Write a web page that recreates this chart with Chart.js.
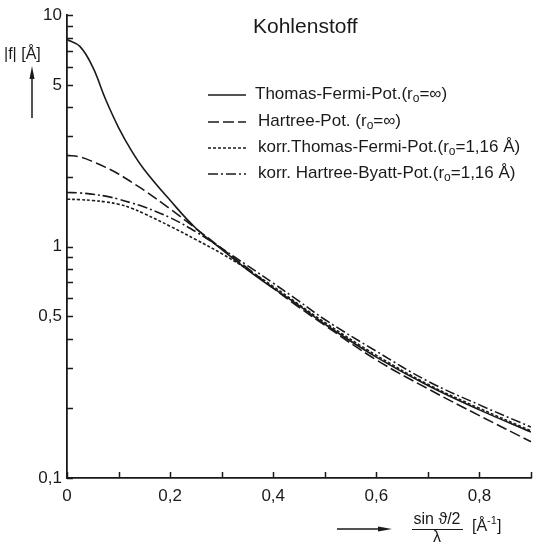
<!DOCTYPE html>
<html lang="de">
<head>
<meta charset="utf-8">
<title>Kohlenstoff</title>
<script src="https://cdn.jsdelivr.net/npm/chart.js@4.4.1/dist/chart.umd.min.js"></script>
<style>
    html, body { margin: 0; padding: 0; background: #fff; }
    #wrap { width: 536px; height: 544px; }
</style>
</head>
<body>
<div id="wrap"><canvas id="grafico" width="536" height="544"></canvas></div>
<script>
// sin(theta/2)/lambda [1/A]
const sWerte = [0, 0.025, 0.05, 0.075, 0.1, 0.125, 0.15, 0.2, 0.25, 0.3, 0.35, 0.4, 0.45, 0.5, 0.6, 0.7, 0.8, 0.9];

// |f| [A] fuer die vier Potentiale
const thomasFermi      = [7.85, 7.33, 5.96, 4.32, 3.27, 2.6, 2.15, 1.585, 1.2, 0.973, 0.794, 0.661, 0.556, 0.462, 0.333, 0.251, 0.197, 0.158];
const hartree          = [2.48, 2.44, 2.33, 2.2, 2.06, 1.9, 1.75, 1.455, 1.197, 0.982, 0.807, 0.661, 0.547, 0.457, 0.324, 0.243, 0.186, 0.1435];
const korrThomasFermi  = [1.603, 1.596, 1.581, 1.56, 1.524, 1.466, 1.387, 1.225, 1.072, 0.933, 0.798, 0.673, 0.562, 0.47, 0.339, 0.254, 0.2, 0.16];
const korrHartreeByatt = [1.714, 1.706, 1.683, 1.652, 1.603, 1.545, 1.483, 1.334, 1.159, 0.982, 0.828, 0.695, 0.581, 0.484, 0.353, 0.262, 0.207, 0.166];

const legendeTexte = [
    'Thomas-Fermi-Pot.(r_o=∞)',
    'Hartree-Pot. (r_o=∞)',
    'korr.Thomas-Fermi-Pot.(r_o=1,16 Å)',
    'korr. Hartree-Byatt-Pot.(r_o=1,16 Å)'
];

const yTicks = [0.1, 0.5, 1, 5, 10];
const yKleineTicks = [0.2, 0.3, 0.4, 0.6, 0.7, 0.8, 0.9, 2, 3, 4, 6, 7, 8, 9];
const xTicks = [0, 0.2, 0.4, 0.6, 0.8];
const xKleineTicks = [0.1, 0.3, 0.5, 0.7, 0.9];

const schrift = "'Liberation Sans', Arial, sans-serif";
const farbe = '#1a1a1a';

function punkte(werte) {
    return sWerte.map((s, i) => ({ x: s, y: werte[i] }));
}

function kommaZahl(v) {
    return String(v).replace('.', ',');
}

// Text mit Tief-/Hochstellung zeichnen
function zeichneText(ctx, x, y, teile, groesse) {
    teile.forEach(function (t) {
        var txt = t[0], art = t[1] || 'n';
        var g = art === 'n' ? groesse : Math.round(groesse * 0.68);
        var dy = art === 'sub' ? groesse * 0.3 : (art === 'sup' ? -groesse * 0.38 : 0);
        ctx.font = g + 'px ' + schrift;
        ctx.fillText(txt, x, y + dy);
        x += ctx.measureText(txt).width;
    });
    return x;
}

function legendeTeile(text) {
    var stuecke = text.split('_o');
    var teile = [];
    stuecke.forEach(function (s, i) {
        if (i > 0) teile.push(['o', 'sub']);
        teile.push([s, 'n']);
    });
    return teile;
}

const beschriftung = {
    id: 'beschriftung',
    afterDraw(chart) {
        const ctx = chart.ctx;
        const area = chart.chartArea;
        const sx = chart.scales.x;
        const sy = chart.scales.y;
        ctx.save();
        ctx.strokeStyle = farbe;
        ctx.fillStyle = farbe;
        ctx.lineWidth = 1.5;
        ctx.setLineDash([]);

        // Ticks nach innen
        ctx.beginPath();
        yTicks.concat(yKleineTicks).forEach(function (v) {
            var py = Math.round(sy.getPixelForValue(v)) + 0.5;
            ctx.moveTo(area.left, py);
            ctx.lineTo(area.left + 6, py);
        });
        xTicks.concat(xKleineTicks).forEach(function (v) {
            var px = Math.round(sx.getPixelForValue(v)) + 0.5;
            ctx.moveTo(px, area.bottom);
            ctx.lineTo(px, area.bottom - 6);
        });
        ctx.stroke();

        // Titel
        ctx.textBaseline = 'middle';
        ctx.textAlign = 'left';
        ctx.font = '21px ' + schrift;
        ctx.fillText('Kohlenstoff', 253, 27);

        // Legende
        var zeilenY = [94, 121, 147, 173];
        chart.data.datasets.forEach(function (ds, i) {
            var y = zeilenY[i];
            ctx.save();
            ctx.lineWidth = 1.4;
            ctx.setLineDash(ds.borderDash || []);
            ctx.beginPath();
            ctx.moveTo(208, y + 1);
            ctx.lineTo(246, y + 1);
            ctx.stroke();
            ctx.restore();
            zeichneText(ctx, i === 0 ? 255 : 258, y, legendeTeile(legendeTexte[i]), 17);
        });

        // y-Beschriftung mit Pfeil
        zeichneText(ctx, 4, 55, [['|f| [Å]', 'n']], 16);
        ctx.beginPath();
        ctx.moveTo(32, 118);
        ctx.lineTo(32, 76);
        ctx.stroke();
        ctx.beginPath();
        ctx.moveTo(32, 66);
        ctx.lineTo(29.5, 79);
        ctx.lineTo(34.5, 79);
        ctx.closePath();
        ctx.fill();

        // x-Beschriftung mit Pfeil
        ctx.beginPath();
        ctx.moveTo(337, 529);
        ctx.lineTo(380, 529);
        ctx.stroke();
        ctx.beginPath();
        ctx.moveTo(392, 529);
        ctx.lineTo(378, 526.5);
        ctx.lineTo(378, 531.5);
        ctx.closePath();
        ctx.fill();

        ctx.font = '16px ' + schrift;
        ctx.textAlign = 'center';
        ctx.fillText('sin ϑ/2', 437, 520);
        ctx.fillText('λ', 437, 538);
        ctx.beginPath();
        ctx.moveTo(412, 529.5);
        ctx.lineTo(463, 529.5);
        ctx.lineWidth = 1.2;
        ctx.stroke();
        ctx.textAlign = 'left';
        zeichneText(ctx, 472, 527, [['[Å', 'n'], ['-1', 'sup'], [']', 'n']], 16);

        ctx.restore();
    }
};

const datensaetze = [
    { label: legendeTexte[0], data: punkte(thomasFermi), borderDash: [] },
    { label: legendeTexte[1], data: punkte(hartree), borderDash: [11, 4] },
    { label: legendeTexte[2], data: punkte(korrThomasFermi), borderDash: [3, 2] },
    { label: legendeTexte[3], data: punkte(korrHartreeByatt), borderDash: [10, 3, 2, 3] }
].map(function (ds) {
    return Object.assign(ds, {
        borderColor: farbe,
        borderWidth: 1.6,
        pointRadius: 0,
        fill: false,
        tension: 0.4
    });
});

new Chart(document.getElementById('grafico'), {
    type: 'line',
    data: { datasets: datensaetze },
    options: {
        responsive: false,
        animation: false,
        devicePixelRatio: 1,
        layout: { padding: { top: 15, right: 5, left: 0, bottom: 0 } },
        plugins: {
            legend: { display: false },
            tooltip: { enabled: false }
        },
        scales: {
            x: {
                type: 'linear',
                min: 0,
                max: 0.9,
                grid: { display: false, drawTicks: false },
                border: { display: true, color: farbe, width: 1.8 },
                afterBuildTicks: function (s) { s.ticks = xTicks.map(v => ({ value: v })); },
                afterFit: function (s) { s.height = 66; },
                ticks: {
                    padding: 8,
                    color: farbe,
                    font: { family: schrift, size: 17 },
                    maxRotation: 0,
                    callback: function (v) { return kommaZahl(v); }
                }
            },
            y: {
                type: 'logarithmic',
                min: 0.1,
                max: 10,
                grid: { display: false, drawTicks: false },
                border: { display: true, color: farbe, width: 1.8 },
                afterBuildTicks: function (s) { s.ticks = yTicks.map(v => ({ value: v })); },
                afterFit: function (s) { s.width = 67; },
                ticks: {
                    padding: 5,
                    color: farbe,
                    font: { family: schrift, size: 17 },
                    callback: function (v) { return kommaZahl(v); }
                }
            }
        }
    },
    plugins: [beschriftung]
});
</script>
</body>
</html>
